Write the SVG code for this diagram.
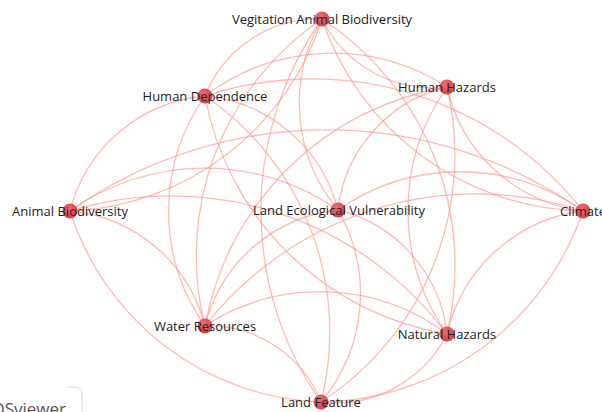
<svg xmlns="http://www.w3.org/2000/svg" width="602" height="412" viewBox="0 0 602 412">
<defs>
<radialGradient id="ng" cx="40%" cy="35%" r="70%">
<stop offset="0" stop-color="#ef6d70"/>
<stop offset="1" stop-color="#d43c43"/>
</radialGradient>
</defs>
<style>
.e{fill:none;stroke:#ff8f87;stroke-opacity:0.62;stroke-width:1.3}
.n{fill:url(#ng)}
.t{font-family:"Open Sans","Noto Sans","DejaVu Sans",sans-serif;font-size:13px;fill:#222;text-anchor:middle}
.w{font-family:"Open Sans","Noto Sans","DejaVu Sans",sans-serif;font-size:17px;fill:#555;text-anchor:end}
</style>
<rect width="602" height="412" fill="#fff"/>
<g id="connectors">
<path class="e" d="M70,211 A154,154 0 0 1 205,96"/>
<path class="e" d="M205,96 A122,122 0 0 1 322,19"/>
<path class="e" d="M322,19 A286,286 0 0 0 205,326"/>
<path class="e" d="M322,19 A333,333 0 0 0 321,402"/>
<path class="e" d="M322,19 A167,167 0 0 0 338,210"/>
<path class="e" d="M322,19 A124,124 0 0 0 447,87"/>
<path class="e" d="M447,87 A160,160 0 0 0 583,211"/>
<path class="e" d="M583,211 A160,160 0 0 0 447,334"/>
<path class="e" d="M447,87 A215,215 0 0 0 447,334"/>
<path class="e" d="M70,211 A274,274 0 0 0 321,402"/>
<path class="e" d="M321,402 A125,125 0 0 0 447,334"/>
<path class="e" d="M205,326 A211,211 0 0 1 447,334"/>
<path class="e" d="M205,96 A211,211 0 0 1 447,87"/>
<path class="e" d="M321,402 A282,282 0 0 0 583,211"/>
<path class="e" d="M70,211 A276,276 0 0 0 322,19"/>
<path class="e" d="M70,211 A233,233 0 0 1 338,210"/>
<path class="e" d="M205,96 A200,200 0 0 0 205,326"/>
<path class="e" d="M205,96 A344,344 0 0 1 583,211"/>
<path class="e" d="M322,19 A295,295 0 0 1 447,334"/>
<path class="e" d="M70,211 A345,345 0 0 1 447,334"/>
<path class="e" d="M338,210 A213,213 0 0 1 583,211"/>
<path class="e" d="M205,326 A344,344 0 0 1 583,211"/>
<path class="e" d="M70,211 A446,446 0 0 1 583,211"/>
<path class="e" d="M322,19 A282,282 0 0 0 583,211"/>
<path class="e" d="M447,87 A143,143 0 0 0 338,210"/>
<path class="e" d="M447,87 A295,295 0 0 1 321,402"/>
<path class="e" d="M447,87 A296,296 0 0 0 205,326"/>
<path class="e" d="M70,211 A154,154 0 0 1 205,326"/>
<path class="e" d="M205,96 A152,152 0 0 1 338,210"/>
<path class="e" d="M205,96 A285,285 0 0 1 321,402"/>
<path class="e" d="M205,96 A295,295 0 0 0 447,334"/>
<path class="e" d="M338,210 A168,168 0 0 1 321,402"/>
<path class="e" d="M338,210 A144,144 0 0 1 447,334"/>
<path class="e" d="M338,210 A154,154 0 0 0 205,326"/>
<path class="e" d="M321,402 A121,121 0 0 0 205,326"/>
</g>
<g id="node-vegitation"><circle class="n" cx="322" cy="19" r="7.5"/><text class="t" x="322" y="23.5">Vegitation Animal Biodiversity</text></g>
<g id="node-human-dependence"><circle class="n" cx="205" cy="96" r="7.5"/><text class="t" x="205" y="100.5">Human Dependence</text></g>
<g id="node-human-hazards"><circle class="n" cx="447" cy="87" r="7.5"/><text class="t" x="447" y="91.5">Human Hazards</text></g>
<g id="node-animal-biodiversity"><circle class="n" cx="70" cy="211" r="7.5"/><text class="t" x="70" y="215.5">Animal Biodiversity</text></g>
<g id="node-land-ecological"><circle class="n" cx="338" cy="210" r="7.5"/><text class="t" x="339" y="214.5">Land Ecological Vulnerability</text></g>
<g id="node-climate"><circle class="n" cx="583" cy="211" r="7.5"/><text class="t" x="583" y="215.5">Climate</text></g>
<g id="node-water-resources"><circle class="n" cx="205" cy="326" r="7.5"/><text class="t" x="205" y="330.5">Water Resources</text></g>
<g id="node-natural-hazards"><circle class="n" cx="447" cy="334" r="7.5"/><text class="t" x="447" y="338.5">Natural Hazards</text></g>
<g id="node-land-feature"><circle class="n" cx="321" cy="402" r="7.5"/><text class="t" x="321" y="406.5">Land Feature</text></g>
<g id="watermark">
<path d="M68,387 L74,387 Q82,387 82,395 L82,412" fill="none" stroke="#d8d8d8" stroke-width="1"/>
<text class="w" x="66" y="415">VOSviewer</text>
</g>
</svg>
